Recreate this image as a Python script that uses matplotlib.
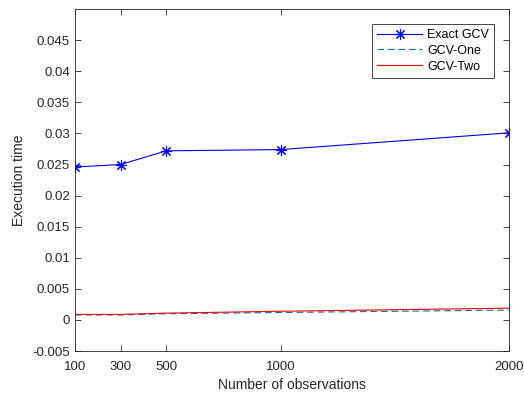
import numpy as np
import matplotlib.pyplot as plt

plt.rcParams['font.family'] = ['Liberation Sans', 'DejaVu Sans']

# Dados
n_obs = [100, 300, 500, 1000, 2000]
exact_gcv = [0.0246, 0.0250, 0.0272, 0.0274, 0.0301]
gcv_one = [0.0008, 0.0008, 0.0010, 0.0012, 0.0016]
gcv_two = [0.0009, 0.0009, 0.0011, 0.0014, 0.0019]
yticks = np.arange(-0.005, 0.0451, 0.005)

fig = plt.figure(figsize=(5.24, 3.94), dpi=100)
ax = fig.add_axes([0.143, 0.109, 0.829, 0.868])

ax.plot(n_obs, exact_gcv, color='blue', marker=(8, 2, 0), markersize=8, markeredgewidth=0.8,
        linewidth=0.8, label='Exact GCV')
ax.plot(n_obs, gcv_one, color=(0, 0.447, 0.741), linestyle='--', dashes=(6, 3.5),
        linewidth=0.8, label='GCV-One')
ax.plot(n_obs, gcv_two, color='red', linewidth=0.8, label='GCV-Two')

ax.set_xlim(100, 2000)
ax.set_ylim(-0.005, 0.05)
ax.set_xticks(n_obs)
ax.set_yticks(yticks)
ax.set_yticklabels(['-0.005', '0', '0.005', '0.01', '0.015', '0.02', '0.025',
                    '0.03', '0.035', '0.04', '0.045'])
ax.tick_params(direction='in', top=True, right=True, labelsize=9.5, colors='0.15', length=4, width=0.6)
ax.tick_params(axis='x', pad=7)
for s in ax.spines.values():
    s.set_color('0.15')
    s.set_linewidth(0.6)

ax.set_xlabel('Number of observations', fontsize=10, color='0.15', labelpad=4)
ax.set_ylabel('Execution time', fontsize=10, color='0.15', labelpad=5)

leg = ax.legend(loc='upper right', fontsize=9, fancybox=False, framealpha=1,
                edgecolor='0.15', borderaxespad=1.2, handlelength=3.6, labelspacing=0.3,
                borderpad=0.4, handletextpad=0.4)
leg.get_frame().set_linewidth(0.6)

fig.savefig('out.png', dpi=100)
